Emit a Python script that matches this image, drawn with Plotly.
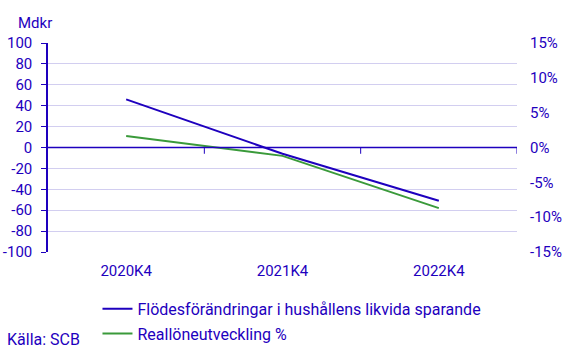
import plotly.graph_objects as go

categories = ["2020K4", "2021K4", "2022K4"]
flode = [46, -6, -51]
realloen = [1.65, -1.2, -8.7]
left_ticks = [100, 80, 60, 40, 20, 0, -20, -40, -60, -80, -100]
right_ticks = [15, 10, 5, 0, -5, -10, -15]

BLUE = "#1E00BE"
GREEN = "#3A9A3A"
GRID = "#D2CEF0"
FONT = "Roboto"

fig = go.Figure()
fig.add_trace(go.Scatter(x=categories, y=flode, mode="lines",
                         name="Flödesförändringar i hushållens likvida sparande",
                         legendgroup="a",
                         line=dict(color=BLUE, width=2)))
fig.add_trace(go.Scatter(x=categories, y=realloen, mode="lines",
                         name="Reallöneutveckling %", yaxis="y2",
                         legendgroup="b",
                         line=dict(color=GREEN, width=2)))

# x-axis tick marks at category boundaries, drawn on the zero line
for b in [0.5, 1.5, 2.5]:
    fig.add_shape(type="line", xref="x", yref="y", x0=b, x1=b, y0=0, y1=-6,
                  line=dict(color=BLUE, width=1))
fig.add_shape(type="line", xref="paper", yref="y", x0=0, x1=1, y0=0, y1=0,
              line=dict(color=BLUE, width=1.5))

fig.update_layout(
    width=568, height=363,
    margin=dict(l=48, r=51, t=43, b=111, autoexpand=False),
    paper_bgcolor="white", plot_bgcolor="white",
    font=dict(family=FONT, size=15, color=BLUE),
    showlegend=True,
    legend=dict(orientation="v", x=0.1055, y=-0.191, xanchor="left", yanchor="top",
                font=dict(family=FONT, size=16, color=BLUE),
                traceorder="grouped", tracegroupgap=1, itemwidth=30),
    xaxis=dict(type="category", range=[-0.5, 2.5], showgrid=False, automargin=False,
               showline=False, ticks="", zeroline=False, ticklabelstandoff=8,
               tickfont=dict(family=FONT, size=15, color=BLUE)),
    yaxis=dict(range=[-100, 100], tickvals=left_ticks,
               ticktext=[str(v) for v in left_ticks],
               showgrid=True, automargin=False,
               gridcolor=GRID, gridwidth=1, zeroline=False,
               showline=True, linecolor=BLUE, linewidth=1.5,
               ticks="outside", ticklen=5, tickcolor=BLUE, ticklabelstandoff=6,
               tickfont=dict(family=FONT, size=15, color=BLUE)),
    yaxis2=dict(range=[-15, 15], tickvals=right_ticks, automargin=False,
                ticktext=[f"{v}%" for v in right_ticks],
                overlaying="y", side="right", showgrid=False, zeroline=False,
                showline=False, ticks="", ticklabelstandoff=12,
                tickfont=dict(family=FONT, size=15, color=BLUE)),
    annotations=[
        dict(text="Mdkr", xref="paper", yref="paper", x=-0.068, y=1.096,
             xanchor="left", yanchor="middle", showarrow=False,
             font=dict(family=FONT, size=15, color=BLUE)),
        dict(text="Källa: SCB", xref="paper", yref="paper", x=-0.0917, y=-0.421,
             xanchor="left", yanchor="middle", showarrow=False,
             font=dict(family=FONT, size=16, color=BLUE)),
    ],
)

fig.write_html("out.html", config={"displayModeBar": False},
               post_script="document.body.style.margin='0';")
